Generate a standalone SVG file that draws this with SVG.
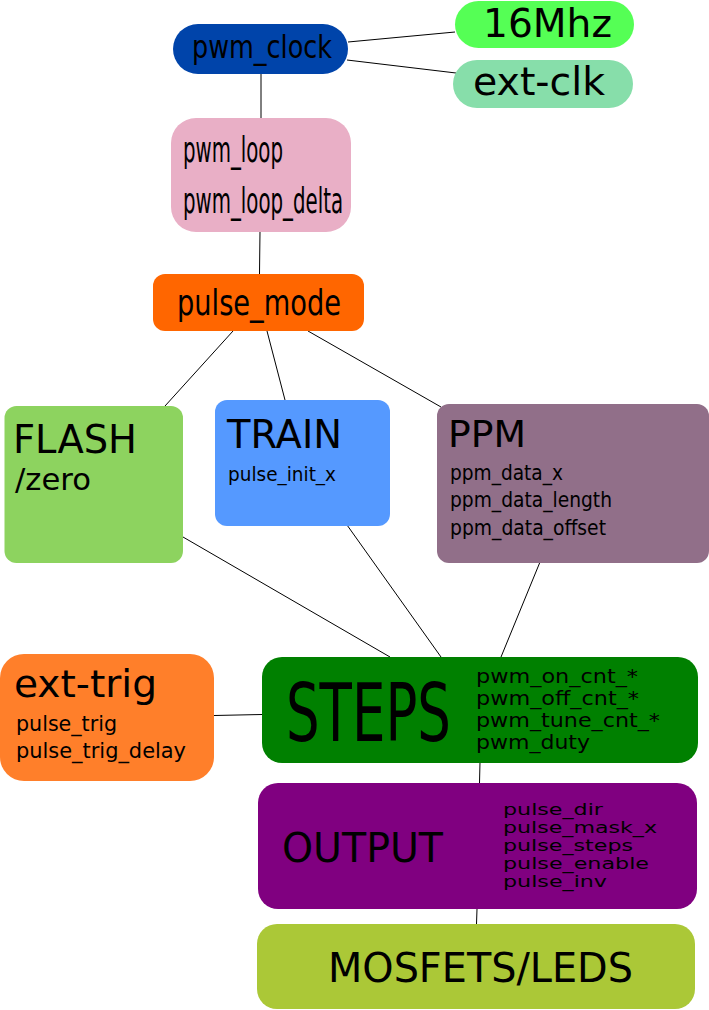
<svg xmlns="http://www.w3.org/2000/svg" width="709" height="1010" viewBox="0 0 709 1010">
<style>
text{font-family:"DejaVu Sans","Liberation Sans",sans-serif;fill:#000}
.c line{stroke:#000;stroke-width:1}
</style>
<rect width="709" height="1010" fill="#fff"/>
<g class="c" id="connectors">
<line x1="348" y1="42" x2="455" y2="32"/>
<line x1="347" y1="60" x2="456" y2="73"/>
<line x1="261" y1="73" x2="261" y2="118"/>
<line x1="260" y1="231" x2="259.5" y2="274"/>
<line x1="233" y1="331" x2="165" y2="406"/>
<line x1="267" y1="331" x2="285" y2="400"/>
<line x1="308" y1="331" x2="441" y2="407"/>
<line x1="183" y1="537" x2="390" y2="657"/>
<line x1="347" y1="525" x2="441" y2="657"/>
<line x1="540" y1="562" x2="501" y2="657"/>
<line x1="214" y1="715.5" x2="262" y2="714.5"/>
<line x1="480" y1="762" x2="479.5" y2="783"/>
<line x1="477" y1="909" x2="476.5" y2="924"/>
</g>
<g id="pwm_clock">
<rect x="173" y="24" width="175" height="50" rx="25" fill="#0044aa"/>
<text x="192" y="58" font-size="32" textLength="140" lengthAdjust="spacingAndGlyphs">pwm_clock</text>
</g>
<g id="n16mhz">
<rect x="455" y="1" width="179" height="47" rx="23.5" fill="#55ff55"/>
<text x="483" y="37" font-size="39" textLength="129" lengthAdjust="spacingAndGlyphs">16Mhz</text>
</g>
<g id="ext_clk">
<rect x="453" y="60" width="180" height="48" rx="24" fill="#87deaa"/>
<text x="473" y="95" font-size="39" textLength="132" lengthAdjust="spacingAndGlyphs">ext-clk</text>
</g>
<g id="pwm_loop">
<rect x="171" y="118" width="180" height="114" rx="25" fill="#e9afc6"/>
<text x="183" y="162" font-size="36" textLength="100" lengthAdjust="spacingAndGlyphs">pwm_loop</text>
<text x="183" y="213" font-size="36" textLength="160" lengthAdjust="spacingAndGlyphs">pwm_loop_delta</text>
</g>
<g id="pulse_mode">
<rect x="153" y="274" width="211" height="57" rx="12" fill="#ff6600"/>
<text x="177" y="315" font-size="36" textLength="164" lengthAdjust="spacingAndGlyphs">pulse_mode</text>
</g>
<g id="flash">
<rect x="4.5" y="406" width="178.5" height="157" rx="12" fill="#8dd35f"/>
<text x="13" y="453" font-size="39" textLength="124" lengthAdjust="spacingAndGlyphs">FLASH</text>
<text x="15" y="490" font-size="31" textLength="76" lengthAdjust="spacingAndGlyphs">/zero</text>
</g>
<g id="train">
<rect x="215" y="400" width="175" height="126" rx="12" fill="#5599ff"/>
<text x="227" y="448" font-size="39" textLength="115" lengthAdjust="spacingAndGlyphs">TRAIN</text>
<text x="228" y="481" font-size="20" textLength="108" lengthAdjust="spacingAndGlyphs">pulse_init_x</text>
</g>
<g id="ppm">
<rect x="437" y="404" width="272" height="159" rx="12" fill="#916f89"/>
<text x="448" y="447" font-size="37" textLength="78" lengthAdjust="spacingAndGlyphs">PPM</text>
<text x="450" y="480" font-size="22" textLength="113" lengthAdjust="spacingAndGlyphs">ppm_data_x</text>
<text x="450" y="507" font-size="22" textLength="162" lengthAdjust="spacingAndGlyphs">ppm_data_length</text>
<text x="450" y="535" font-size="22" textLength="156" lengthAdjust="spacingAndGlyphs">ppm_data_offset</text>
</g>
<g id="ext_trig">
<rect x="0" y="654" width="214" height="127" rx="24" fill="#ff7f2a"/>
<text x="14" y="697" font-size="37" textLength="143" lengthAdjust="spacingAndGlyphs">ext-trig</text>
<text x="16" y="731" font-size="21" textLength="101" lengthAdjust="spacingAndGlyphs">pulse_trig</text>
<text x="16" y="758" font-size="21" textLength="170" lengthAdjust="spacingAndGlyphs">pulse_trig_delay</text>
</g>
<g id="steps">
<rect x="262" y="657" width="436" height="106" rx="20" fill="#008000"/>
<text transform="translate(286,741) scale(0.662,1)" x="0" y="0" font-size="80">STEPS</text>
<text x="476" y="683" font-size="19" textLength="162" lengthAdjust="spacingAndGlyphs">pwm_on_cnt_*</text>
<text x="476" y="705" font-size="19" textLength="163" lengthAdjust="spacingAndGlyphs">pwm_off_cnt_*</text>
<text x="476" y="727" font-size="19" textLength="184" lengthAdjust="spacingAndGlyphs">pwm_tune_cnt_*</text>
<text x="476" y="749" font-size="19" textLength="114" lengthAdjust="spacingAndGlyphs">pwm_duty</text>
</g>
<g id="output">
<rect x="258" y="783" width="439" height="126" rx="20" fill="#800080"/>
<text x="282" y="862" font-size="40" textLength="161" lengthAdjust="spacingAndGlyphs">OUTPUT</text>
<text x="503" y="815" font-size="15.5" textLength="100" lengthAdjust="spacingAndGlyphs">pulse_dir</text>
<text x="503" y="833" font-size="15.5" textLength="154" lengthAdjust="spacingAndGlyphs">pulse_mask_x</text>
<text x="503" y="851" font-size="15.5" textLength="130" lengthAdjust="spacingAndGlyphs">pulse_steps</text>
<text x="503" y="869" font-size="15.5" textLength="146" lengthAdjust="spacingAndGlyphs">pulse_enable</text>
<text x="503" y="887" font-size="15.5" textLength="104" lengthAdjust="spacingAndGlyphs">pulse_inv</text>
</g>
<g id="mosfets">
<rect x="257" y="924" width="438" height="85" rx="20" fill="#abc837"/>
<text x="328" y="982" font-size="40" textLength="305" lengthAdjust="spacingAndGlyphs">MOSFETS/LEDS</text>
</g>
</svg>
